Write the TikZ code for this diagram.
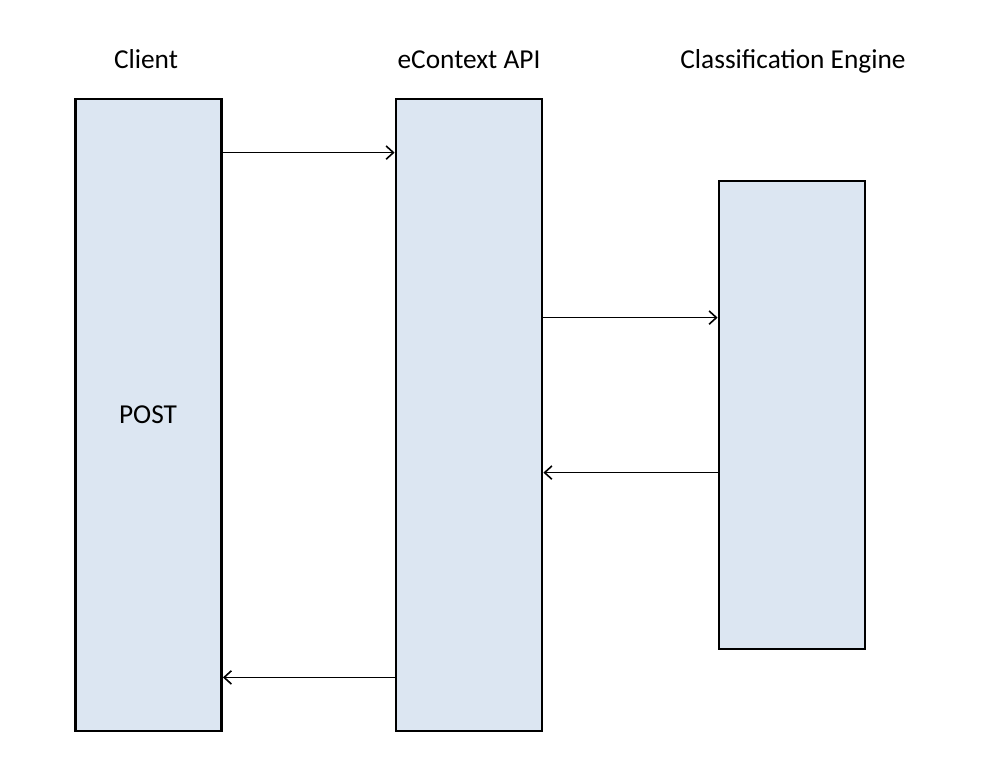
\documentclass[tikz,border=0pt]{standalone}
\usepackage{fontspec}
\setmainfont{Carlito}
\usetikzlibrary{arrows.meta, positioning, calc}
\definecolor{boxfill}{HTML}{DCE6F2}

\begin{document}
\begin{tikzpicture}[x=0.75pt, y=-0.75pt, >={Straight Barb[length=5.5pt, width=10pt]},
  font=\fontsize{20.5}{24}\selectfont,
  lane/.style={draw, line width=2.1pt, fill=boxfill, minimum width=109.5pt, inner sep=0pt},
  title/.style={anchor=base},
  msg/.style={->, line width=1.2pt}]
  \useasboundingbox (0,0) rectangle (996,758);

  \node[lane, minimum height=474pt] (client) at (148.5,415) {};
  \node[lane, minimum height=474pt] (api) at (469,415) {};
  \node[lane, minimum height=351pt] (engine) at (792,415) {};
  \node[anchor=base] (post) at (148,423) {POST};

  \node[title] (tclient) at (146,68) {Client};
  \node[title] (tapi) at (469,68) {eContext API};
  \node[title] (tengine) at (793,68) {Classification Engine};

  \draw[msg] ([yshift=-41.25pt]client.north east) -- ([yshift=-41.25pt]api.north west);
  \draw[msg] ([yshift=-103.5pt]api.north east |- engine.north) -- ([yshift=-103.5pt]engine.north west);
  \draw[msg] ([yshift=-219.75pt]engine.north west) -- ([yshift=-219.75pt]api.north east |- engine.north);
  \draw[msg] ([yshift=41.25pt]api.south west) -- ([yshift=41.25pt]client.south east);
\end{tikzpicture}
\end{document}
